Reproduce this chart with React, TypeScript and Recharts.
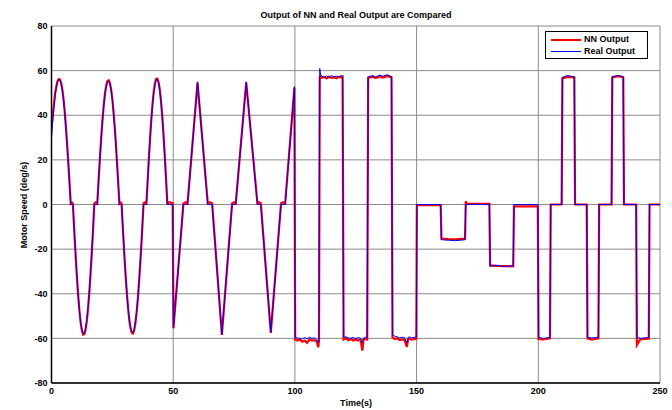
import React from 'react';
import { LineChart, Line, XAxis, YAxis, CartesianGrid } from 'recharts';

// 0-50 s: smooth lobes, sampled every 0.5 s
const timeP1 = [0, 0.5, 1, 1.5, 2, 2.5, 3, 3.5, 4, 4.5, 5, 5.5, 6, 6.5, 7, 7.5, 7.9, 8.3, 8.8];
const realP1 = [30, 37, 43.5, 49, 52.5, 55, 55.9, 55.7, 54, 50.8, 46.2, 40.3, 33.2, 25.2, 16.6, 7.5, 0, 0, 0];
const nnP1 = [35, 40, 45, 50, 53, 55.4, 56.2, 56, 54.4, 51.2, 46.7, 40.8, 33.7, 25.7, 17.1, 8, 0.5, 1, 0.5];

const timeN1 = [9, 9.5, 10, 10.5, 11, 11.5, 12, 12.5, 13, 13.5, 14, 14.5, 15, 15.5, 16, 16.5, 17, 17.6, 18.2, 18.8];
const realN1 = [-4.1, -14.3, -24.1, -33.1, -41, -47.6, -52.8, -56.2, -57.9, -57.7, -55.6, -51.9, -46.4, -39.6, -31.3, -22.2, -12.4, 0, 0, 0];
const nnN1 = [-4.5, -14.8, -24.6, -33.6, -41.4, -48, -53.2, -56.5, -58.3, -58.1, -56, -52.3, -46.8, -40, -31.8, -22.7, -12.9, 0.5, 1, 0.5];

const timeP2 = [19, 19.5, 20, 20.5, 21, 21.5, 22, 22.5, 23, 23.5, 24, 24.5, 25, 25.5, 26, 26.5, 27, 27.5, 27.9, 28.3, 28.8];
const realP2 = [3.8, 13.3, 22.3, 30.7, 38.2, 44.6, 49.6, 53.1, 55.1, 55.4, 54.1, 51.2, 46.8, 40.9, 33.9, 25.8, 17, 7.6, 0, 0, 0];
const nnP2 = [4.2, 13.8, 22.8, 31.2, 38.6, 45, 50, 53.4, 55.4, 55.7, 54.4, 51.6, 47.2, 41.4, 34.4, 26.3, 17.5, 8.1, 0.5, 1, 0.5];

const timeN2 = [29, 29.5, 30, 30.5, 31, 31.5, 32, 32.5, 33, 33.5, 34, 34.5, 35, 35.5, 36, 36.5, 37, 37.5, 37.8, 38.4, 39];
const realN2 = [-4, -13.9, -23.4, -32.2, -40, -46.5, -51.7, -55.3, -57.2, -57.4, -55.8, -52.5, -47.7, -41.4, -33.8, -25.2, -15.9, -6, 0, 0, 0];
const nnN2 = [-4.4, -14.4, -23.9, -32.7, -40.4, -46.9, -52.1, -55.6, -57.6, -57.8, -56.2, -52.9, -48.1, -41.9, -34.3, -25.7, -16.4, -6.5, 0.5, 1, 0.5];

const timeP3 = [39.2, 39.5, 40, 40.5, 41, 41.5, 42, 42.5, 43, 43.5, 44, 44.5, 45, 45.5, 46, 46.5, 47, 47.6, 48.5, 49.8];
const realP3 = [4.1, 10.2, 20.1, 29.3, 37.6, 44.6, 50.1, 53.9, 56, 56.1, 54.5, 51, 45.8, 39.1, 31.1, 22, 12.3, 0, 0, 0];
const nnP3 = [4.5, 10.7, 20.6, 29.8, 38, 45, 50.5, 54.2, 56.3, 56.4, 54.8, 51.4, 46.2, 39.6, 31.6, 22.5, 12.8, 0.5, 1, 0.5];

// 50-100 s: triangular lobes
const timeB = [50.1, 54.2, 55.1, 55.9, 60, 64.2, 65.1, 66, 70, 74.2, 75, 75.7, 80, 84.6, 85.3, 86, 90.1, 94.3, 95.1, 96, 99.8];
const realB = [-55, 0, 0, 0, 55, 0, 0, 0, -58, 0, 0, 0, 55, 0, 0, 0, -57.2, 0, 0, 0, 52.8];
const nnB = [-55.5, 0.5, 1, 0.5, 54.6, 0.5, 1, 0.5, -58.4, 0.5, 1, 0.5, 54.6, 0.5, 1, 0.5, -57.6, 0.5, 1, 0.5, 52.4];

// 100-150 s: +/-60 square wave
const timeC = [100.1, 101, 102, 103, 104, 105, 106, 107, 108, 109, 109.6, 109.9,
  110.2, 110.6, 111, 112, 113, 114, 115, 116, 117, 118, 119, 119.6,
  120, 121, 122, 123, 124, 125, 126, 127, 127.7, 128.2, 129, 129.7,
  130.1, 131, 132, 133, 134, 135, 136, 137, 138, 139, 139.7,
  140.1, 141, 142, 143, 144, 145, 146, 146.5, 147, 148, 149, 149.9];
const realC = [-59.5, -59.8, -60, -60.3, -59.6, -60.2, -59.5, -60, -59.8, -60.5, -62, -60,
  61, 58, 57.5, 57, 57.6, 57, 57.8, 57.2, 57.5, 57.2, 57.8, 57.5,
  -59.5, -59.3, -59.8, -60, -59.5, -60.2, -59.6, -60, -62, -59.8, -59.5, -59.7,
  57.2, 57.5, 57.8, 57.2, 57.6, 58, 57.5, 57.8, 58.2, 57.6, 57.3,
  -58.5, -59, -59.3, -59.8, -59.5, -59.6, -62, -59.6, -59.3, -59.8, -59.5, -59.5];
const nnC = [-60.5, -61, -60.5, -61.5, -61, -62, -60.5, -61, -60.8, -61.5, -64, -61,
  57, 57.5, 56.8, 57.2, 56.5, 57.3, 56.8, 57, 56.6, 57.2, 57, 57.3,
  -60.5, -60, -60.8, -60.3, -61, -60.5, -61, -60.6, -65.5, -60.5, -60.3, -60.5,
  56.8, 57, 57.3, 56.8, 57, 57.5, 56.9, 57.2, 57.6, 57.2, 57,
  -59.5, -60.3, -60, -60.8, -60.5, -60.7, -63.8, -60.5, -60.2, -60.6, -60.3, -60.2];

// 150-250 s: steps
const timeD = [150.1, 159.9, 160.2, 163, 166, 169.9, 170.2, 170.5, 179.9, 180.2, 183, 186, 189.7, 190, 199.8,
  200.1, 202, 204.8, 205.1, 209.6, 209.9, 212, 214.8, 215.1, 219.9, 220.2, 222, 224.7, 225, 230.1,
  230.4, 233, 234.9, 235.2, 240.2, 240.5, 242, 245.4, 245.7, 250];
const realD = [0, 0, -15.8, -16, -16.2, -15.8, 0, 0, 0, -27.6, -27.3, -27.8, -27.5, 0, 0,
  -59.5, -60, -59.6, 0, 0, 57, 57.8, 57.2, 0, 0, -59.5, -59.8, -59.5, 0, 0,
  57.4, 57.8, 57.3, 0, 0, -59.5, -60, -59.6, 0, 0];
const nnD = [-0.3, -0.3, -15.3, -15.5, -15.6, -15.3, 1.5, 0.3, 0.3, -27.3, -27.5, -27.6, -27.7, -0.8, -0.8,
  -60.3, -60.5, -60, 0, 0, 56.5, 57.2, 57, 0, 0, -60, -60.6, -60, 0, 0,
  57, 57.5, 57, 0, 0, -63, -60.3, -60.1, 0, 0];

const xTicks = [0, 50, 100, 150, 200, 250];
const yTicks = [-80, -60, -40, -20, 0, 20, 40, 60, 80];

const time = [...timeP1, ...timeN1, ...timeP2, ...timeN2, ...timeP3, ...timeB, ...timeC, ...timeD];
const real = [...realP1, ...realN1, ...realP2, ...realN2, ...realP3, ...realB, ...realC, ...realD];
const nn = [...nnP1, ...nnN1, ...nnP2, ...nnN2, ...nnP3, ...nnB, ...nnC, ...nnD];
const data = time.map((t, i) => ({ t, nn: nn[i], real: real[i] }));

const font = '"Liberation Sans", Arial, sans-serif';
const tickStyle = { fontSize: 9, fontWeight: 700, fill: '#000', fontFamily: font };

export default function App() {
  return (
    <div style={{ position: 'absolute', left: 0, top: 0, width: 672, height: 410, background: '#fff', fontFamily: font }}>
      <LineChart width={672} height={410} data={data} margin={{ top: 26, right: 12, bottom: 7, left: 0 }}>
        <CartesianGrid stroke="#8a8a8a" strokeWidth={1} />
        <XAxis
          dataKey="t"
          type="number"
          domain={[0, 250]}
          ticks={xTicks}
          height={20}
          tickSize={0}
          tickMargin={5}
          tickLine={false}
          axisLine={{ stroke: '#000', strokeWidth: 1.5 }}
          tick={tickStyle}
          allowDataOverflow
        />
        <XAxis
          xAxisId="top"
          orientation="top"
          dataKey="t"
          type="number"
          domain={[0, 250]}
          ticks={xTicks}
          height={0}
          mirror
          tick={false}
          tickSize={4}
          tickLine={{ stroke: '#000' }}
          axisLine={{ stroke: '#000', strokeWidth: 1.5 }}
        />
        <YAxis
          type="number"
          domain={[-80, 80]}
          ticks={yTicks}
          width={51.5}
          tickSize={0}
          tickMargin={4}
          tickLine={false}
          axisLine={{ stroke: '#000', strokeWidth: 1.5 }}
          tick={tickStyle}
          allowDataOverflow
        />
        <YAxis
          yAxisId="right"
          orientation="right"
          type="number"
          domain={[-80, 80]}
          ticks={yTicks}
          width={0}
          mirror
          tick={false}
          tickSize={4}
          tickLine={{ stroke: '#000' }}
          axisLine={{ stroke: '#000', strokeWidth: 1.2 }}
        />
        <Line dataKey="nn" type="linear" stroke="#ff0000" strokeWidth={2.2} dot={false} isAnimationActive={false} />
        <Line dataKey="real" type="linear" stroke="#0000ff" strokeWidth={1} dot={false} isAnimationActive={false} />
      </LineChart>

      <div style={{ position: 'absolute', left: 356, top: 10, transform: 'translateX(-50%)', whiteSpace: 'nowrap', fontSize: 9, fontWeight: 700 }}>
        Output of NN and Real Output are Compared
      </div>
      <div style={{ position: 'absolute', left: 356, top: 398, transform: 'translateX(-50%)', whiteSpace: 'nowrap', fontSize: 9, fontWeight: 700 }}>
        Time(s)
      </div>
      <div style={{ position: 'absolute', left: 23.5, top: 204.5, transform: 'translate(-50%, -50%) rotate(-90deg)', whiteSpace: 'nowrap', fontSize: 9, fontWeight: 700 }}>
        Motor Speed (deg/s)
      </div>

      <div style={{ position: 'absolute', left: 545, top: 31, width: 101, height: 26, border: '1.5px solid #000', background: '#fff', fontSize: 9, fontWeight: 700 }}>
        <div style={{ position: 'absolute', left: 5, top: 7, width: 30, height: 2, background: '#ff0000' }} />
        <div style={{ position: 'absolute', left: 38, top: 2, lineHeight: '11px' }}>NN Output</div>
        <div style={{ position: 'absolute', left: 5, top: 19, width: 30, height: 1, background: '#0000ff' }} />
        <div style={{ position: 'absolute', left: 38, top: 14, lineHeight: '11px' }}>Real Output</div>
      </div>
    </div>
  );
}
